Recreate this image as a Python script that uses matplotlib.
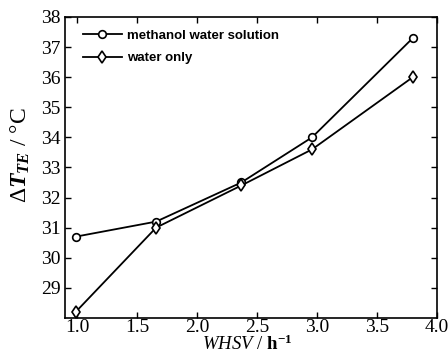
import matplotlib
matplotlib.use("Agg")
import matplotlib.pyplot as plt

plt.rcParams["mathtext.fontset"] = "custom"
plt.rcParams["mathtext.rm"] = "Liberation Serif"
plt.rcParams["mathtext.it"] = "Liberation Serif:italic"
plt.rcParams["mathtext.bf"] = "Liberation Serif:bold"
plt.rcParams["mathtext.bfit"] = "Liberation Serif:italic:bold"

# Space velocity (h^-1) and temperature difference (°C)
whsv = [0.99, 1.66, 2.37, 2.96, 3.80]
methanol_water = [30.7, 31.2, 32.5, 34.0, 37.3]
water_only = [28.2, 31.0, 32.4, 33.6, 36.0]
series_labels = ["methanol water solution", "water only"]
x_ticks = [1.0, 1.5, 2.0, 2.5, 3.0, 3.5, 4.0]
y_ticks = [29, 30, 31, 32, 33, 34, 35, 36, 37, 38]

fig = plt.figure(figsize=(4.48, 3.54), dpi=100)
ax = fig.add_axes([0.145, 0.102, 0.83, 0.850])

ax.plot(whsv, methanol_water, color="black", lw=1.3, marker="o", ms=5.5,
        mfc="white", mec="black", mew=1.2, label=series_labels[0])
ax.plot(whsv, water_only, color="black", lw=1.3, marker="d", ms=6,
        mfc="white", mec="black", mew=1.2, label=series_labels[1])

ax.set_xlim(0.9, 4.0)
ax.set_ylim(28, 38)
ax.set_xticks(x_ticks)
ax.set_yticks(y_ticks)
ax.set_xticklabels([f"{v:.1f}" for v in x_ticks])
ax.set_yticklabels([str(v) for v in y_ticks])
ax.tick_params(direction="in", length=4, width=1, top=True, right=True,
               labelsize=14)
ax.tick_params(axis="x", pad=1)
ax.tick_params(axis="y", pad=3)
for lab in ax.get_xticklabels() + ax.get_yticklabels():
    lab.set_fontfamily("Liberation Serif")
for sp in ax.spines.values():
    sp.set_linewidth(1.2)

ax.set_xlabel(r"$\mathit{WHSV}$ / $\mathbf{h^{-1}}$", fontsize=13.5,
              fontfamily="Liberation Serif")
ax.xaxis.set_label_coords(0.49, -0.056)
ax.set_ylabel(r"$\mathit{\Delta}\mathbfit{T}_{\mathbfit{TE}}$ / °C", fontsize=17,
              fontfamily="Liberation Serif")
ax.yaxis.set_label_coords(-0.088, 0.54)

leg = ax.legend(loc="upper left", frameon=False, handlelength=2.9,
                handletextpad=0.4, labelspacing=0.75,
                prop={"family": "Liberation Sans", "weight": "bold", "size": 9.5},
                borderaxespad=0.0, bbox_to_anchor=(0.035, 0.975))

fig.savefig("out.png", dpi=100)
